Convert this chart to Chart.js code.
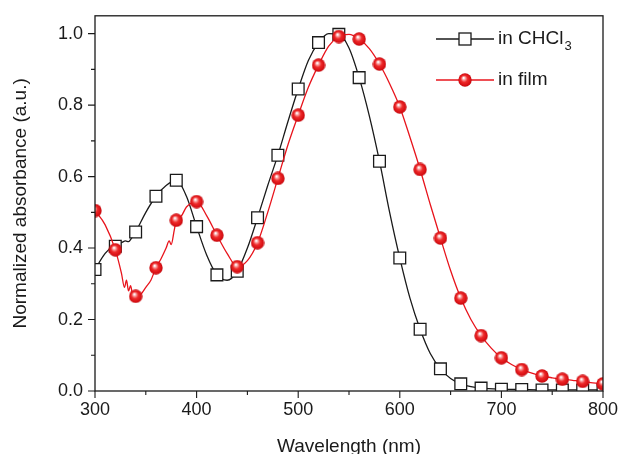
<!DOCTYPE html>
<html>
<head>
<meta charset="utf-8">
<script src="https://cdn.jsdelivr.net/npm/chart.js@4"></script>
<style>
  html, body { margin: 0; padding: 0; background: #fff; }
  #wrap { width: 620px; height: 454px; position: relative; }
</style>
</head>
<body>
<div id="wrap"><canvas id="absChart"></canvas></div>
<script>
// ─── Data ──────────────────────────────────────────────────────────────────
// marker positions (every 20 nm)
const markerNm   = [300, 320, 340, 360, 380, 400, 420, 440, 460, 480, 500, 520, 540,
                    560, 580, 600, 620, 640, 660, 680, 700, 720, 740, 760, 780, 800];
const chcl3Marks = [0.34, 0.405, 0.445, 0.545, 0.59, 0.46, 0.325, 0.335, 0.485, 0.66, 0.845, 0.975, 0.998,
                    0.877, 0.643, 0.372, 0.173, 0.062, 0.02, 0.008, 0.005, 0.004, 0.003, 0.003, 0.003, 0.003];
const filmMarks  = [0.505, 0.395, 0.265, 0.345, 0.478, 0.53, 0.436, 0.348, 0.415, 0.595, 0.772, 0.912, 0.992,
                    0.985, 0.915, 0.795, 0.62, 0.428, 0.26, 0.155, 0.093, 0.06, 0.042, 0.033, 0.027, 0.02];

// full spectra
const chcl3LineNm = [300, 310, 320, 326, 330, 333, 336, 340,
                     350, 360, 370, 380, 390, 400, 410, 420, 430, 440, 450, 460, 470, 480, 490, 500,
                     510, 520, 530, 540, 550, 560, 570, 580, 590, 600, 610, 620, 630, 640, 650, 660,
                     670, 680, 700, 720, 740, 760, 780, 800];
const chcl3Line   = [0.34, 0.385, 0.41, 0.415, 0.42, 0.418, 0.428, 0.445,
                     0.50, 0.545, 0.575, 0.59, 0.545, 0.46, 0.38, 0.325, 0.31, 0.335, 0.40, 0.485, 0.575, 0.66, 0.755, 0.845,
                     0.925, 0.975, 1.0, 0.998, 0.96, 0.877, 0.77, 0.643, 0.50, 0.372, 0.26, 0.173, 0.105, 0.062, 0.035, 0.02,
                     0.012, 0.008, 0.005, 0.004, 0.003, 0.003, 0.003, 0.003];

const filmLineNm = [300, 310, 320, 326, 329, 331, 333, 335, 337, 340,
                    345, 350, 355, 360, 365, 370, 373, 375, 378, 380, 385, 390,
                    400, 410, 420, 430, 440, 450, 460, 470, 480, 490, 500, 510, 520, 530, 540, 550,
                    560, 570, 580, 590, 600, 610, 620, 630, 640, 650, 660, 670, 680, 690, 700, 710,
                    720, 730, 740, 750, 760, 770, 780, 790, 800];
const filmLine   = [0.505, 0.465, 0.395, 0.33, 0.29, 0.31, 0.28, 0.295, 0.27, 0.265,
                    0.27, 0.29, 0.31, 0.345, 0.37, 0.40, 0.42, 0.41, 0.45, 0.478, 0.49, 0.515,
                    0.53, 0.49, 0.436, 0.385, 0.348, 0.365, 0.415, 0.50, 0.595, 0.69, 0.772, 0.85, 0.912, 0.965, 0.992, 0.998,
                    0.985, 0.958, 0.915, 0.86, 0.795, 0.71, 0.62, 0.522, 0.428, 0.337, 0.26, 0.2, 0.155, 0.12, 0.093, 0.074,
                    0.06, 0.05, 0.042, 0.037, 0.033, 0.03, 0.027, 0.023, 0.02];

const xTicks = [300, 400, 500, 600, 700, 800];
const yTicks = [0.0, 0.2, 0.4, 0.6, 0.8, 1.0];

const FONT = "'Liberation Sans', Arial, sans-serif";
const INK  = '#1a1a1a';
const RED  = '#e8141c';

const pairs = (xs, ys) => xs.map((x, i) => ({ x: x, y: ys[i] }));

// ─── Shaded red sphere marker ──────────────────────────────────────────────
function makeSphere(d) {
    const c = document.createElement('canvas');
    c.width = d; c.height = d;
    const g = c.getContext('2d');
    const r = d / 2;
    const grad = g.createRadialGradient(r * 0.8, r * 0.7, 0.5, r, r, r);
    grad.addColorStop(0,    '#ffffff');
    grad.addColorStop(0.18, '#f9a0a0');
    grad.addColorStop(0.45, '#ee2a2a');
    grad.addColorStop(0.85, '#d50d12');
    grad.addColorStop(1,    '#b80a0e');
    g.fillStyle = grad;
    g.beginPath();
    g.arc(r, r, r - 0.3, 0, Math.PI * 2);
    g.fill();
    return c;
}
const sphere = makeSphere(14);

// ─── Frame, minor/major ticks and legend ───────────────────────────────────
const framePlugin = {
    id: 'frame',
    afterDatasetsDraw(chart) {
        const { ctx, chartArea: a, scales } = chart;
        ctx.save();
        ctx.strokeStyle = INK;
        ctx.lineWidth = 1.3;
        ctx.strokeRect(a.left, a.top, a.right - a.left, a.bottom - a.top);

        ctx.lineWidth = 1.1;
        ctx.beginPath();
        for (let v = 300; v <= 800; v += 50) {
            const px = scales.x.getPixelForValue(v);
            const len = v % 100 === 0 ? 7 : 4;
            ctx.moveTo(px, a.bottom);
            ctx.lineTo(px, a.bottom + len);
        }
        for (let k = 0; k <= 10; k++) {
            const py = scales.y.getPixelForValue(k / 10);
            const len = k % 2 === 0 ? 7 : 4;
            ctx.moveTo(a.left, py);
            ctx.lineTo(a.left - len, py);
        }
        ctx.stroke();

        // legend
        const lx0 = 436, lx1 = 494, mx = 465;
        const rows = [{ y: 39, color: INK, square: true }, { y: 80, color: RED, square: false }];
        rows.forEach(r => {
            ctx.strokeStyle = r.color;
            ctx.lineWidth = 1.4;
            ctx.beginPath();
            ctx.moveTo(lx0, r.y); ctx.lineTo(lx1, r.y);
            ctx.stroke();
            if (r.square) {
                ctx.fillStyle = '#fff';
                ctx.fillRect(mx - 6, r.y - 6, 12, 12);
                ctx.strokeStyle = INK;
                ctx.lineWidth = 1.3;
                ctx.strokeRect(mx - 6, r.y - 6, 12, 12);
            } else {
                ctx.drawImage(sphere, mx - 7, r.y - 7);
            }
        });
        ctx.fillStyle = INK;
        ctx.textBaseline = 'middle';
        ctx.font = '19px ' + FONT;
        ctx.fillText('in CHCl', 498, 39);
        const w = ctx.measureText('in CHCl').width;
        ctx.font = '13px ' + FONT;
        ctx.fillText('3', 498 + w + 1, 46);
        ctx.font = '19px ' + FONT;
        ctx.fillText('in film', 498, 80);
        ctx.restore();
    }
};

new Chart(document.getElementById('absChart'), {
    type: 'scatter',
    data: {
        datasets: [
            {
                label: 'in film',
                data: pairs(markerNm, filmMarks),
                showLine: false,
                pointStyle: sphere,
                pointRadius: 7,
                order: 0
            },
            {
                label: 'in film line',
                data: pairs(filmLineNm, filmLine),
                showLine: true,
                borderColor: RED,
                borderWidth: 1.3,
                cubicInterpolationMode: 'monotone',
                pointRadius: 0,
                order: 1
            },
            {
                label: 'in CHCl3',
                data: pairs(markerNm, chcl3Marks),
                showLine: false,
                pointStyle: 'rect',
                pointRadius: 8.3,
                pointBackgroundColor: '#ffffff',
                pointBorderColor: INK,
                pointBorderWidth: 1.3,
                order: 2
            },
            {
                label: 'in CHCl3 line',
                data: pairs(chcl3LineNm, chcl3Line),
                showLine: true,
                borderColor: INK,
                borderWidth: 1.3,
                cubicInterpolationMode: 'monotone',
                pointRadius: 0,
                order: 3
            }
        ]
    },
    options: {
        responsive: true,
        maintainAspectRatio: false,
        animation: false,
        layout: { padding: { top: 14, right: 17, left: 0, bottom: 0 } },
        plugins: {
            legend: { display: false },
            tooltip: { enabled: false }
        },
        scales: {
            x: {
                type: 'linear',
                min: 300,
                max: 800,
                afterFit: s => { s.height = 63; },
                afterBuildTicks: s => { s.ticks = xTicks.map(v => ({ value: v })); },
                grid: { drawOnChartArea: false, color: 'transparent', tickLength: 7 },
                border: { display: false },
                ticks: { color: INK, font: { family: FONT, size: 18 }, padding: 1, maxRotation: 0 },
                title: {
                    display: true,
                    text: 'Wavelength (nm)',
                    color: INK,
                    font: { family: FONT, size: 19, lineHeight: 0.8 },
                    padding: 0
                }
            },
            y: {
                min: 0,
                max: 1.05,
                afterFit: s => { s.width = 95; },
                afterBuildTicks: s => { s.ticks = yTicks.map(v => ({ value: v })); },
                grid: { drawOnChartArea: false, color: 'transparent', tickLength: 7 },
                border: { display: false },
                ticks: {
                    color: INK,
                    font: { family: FONT, size: 18 },
                    padding: 5,
                    callback: v => v.toFixed(1)
                },
                title: {
                    display: true,
                    text: 'Normalized absorbance (a.u.)',
                    color: INK,
                    font: { family: FONT, size: 19, lineHeight: 1 },
                    padding: { top: 11, bottom: 0 }
                }
            }
        }
    },
    plugins: [framePlugin]
});
</script>
</body>
</html>
